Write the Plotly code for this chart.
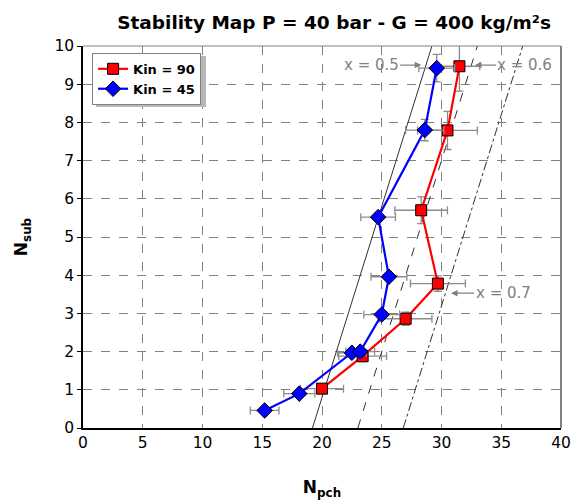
import plotly.graph_objects as go

# Kin = 90 (red squares)
npch_90 = [20.0, 23.4, 27.0, 29.7, 28.3, 30.5, 31.5]
nsub_90 = [1.03, 1.88, 2.86, 3.78, 5.70, 7.79, 9.47]
xerr_90 = [1.8, 2.0, 2.2, 2.3, 2.2, 2.5, 1.7]
yerr_90 = [0.12, 0.15, 0.17, 0.2, 0.35, 0.5, 0.65]

# Kin = 45 (blue diamonds)
npch_45 = [15.2, 18.1, 22.5, 23.2, 25.0, 25.6, 24.7, 28.6, 29.6]
nsub_45 = [0.46, 0.90, 1.97, 2.00, 2.97, 3.96, 5.52, 7.80, 9.42]
xerr_45 = [1.2, 1.3, 1.2, 1.2, 1.5, 1.5, 1.45, 1.6, 1.5]
yerr_45 = [0.05, 0.05, 0.05, 0.05, 0.1, 0.1, 0.1, 0.28, 0.36]

# constant-quality lines (Nsub endpoints and Npch endpoints)
qual_nsub = [0, 10]
qual_x05 = [19.2, 29.2]
qual_x06 = [23.0, 33.0]
qual_x07 = [26.8, 36.8]

x_ticks = [0, 5, 10, 15, 20, 25, 30, 35, 40]
y_ticks = list(range(0, 11))

FONT = "DejaVu Sans"
GRAY = "#808080"

fig = go.Figure()

for xs, dash in [(qual_x05, "solid"), (qual_x06, "dash"), (qual_x07, "dashdot")]:
    fig.add_trace(go.Scatter(x=xs, y=qual_nsub, mode="lines", showlegend=False,
                             line=dict(color="#303030", width=1, dash=dash),
                             hoverinfo="skip"))

fig.add_trace(go.Scatter(
    x=npch_90, y=nsub_90, mode="lines+markers", name="<b>Kin = 90</b>",
    line=dict(color="#ff0000", width=2.2),
    marker=dict(symbol="square", size=11, color="#ff0000", line=dict(color="#000000", width=1)),
    error_x=dict(type="data", array=xerr_90, color="#8c8c8c", thickness=1.3, width=4),
    error_y=dict(type="data", array=yerr_90, color="#8c8c8c", thickness=1.3, width=4),
))
fig.add_trace(go.Scatter(
    x=npch_45, y=nsub_45, mode="lines+markers", name="<b>Kin = 45</b>",
    line=dict(color="#0000ff", width=2.2),
    marker=dict(symbol="diamond", size=12, color="#0000ff", line=dict(color="#000000", width=1)),
    error_x=dict(type="data", array=xerr_45, color="#8c8c8c", thickness=1.3, width=4),
    error_y=dict(type="data", array=yerr_45, color="#8c8c8c", thickness=1.3, width=4),
))

ann_font = dict(family=FONT, size=15, color=GRAY)
arrow = dict(showarrow=True, arrowhead=2, arrowsize=1, arrowwidth=1.3, arrowcolor=GRAY, ay=0)
fig.add_annotation(x=28.3, y=9.5, text="x = 0.5", ax=-50, font=ann_font, **arrow)
fig.add_annotation(x=32.8, y=9.5, text="x = 0.6", ax=50, font=ann_font, **arrow)
fig.add_annotation(x=30.8, y=3.53, text="x = 0.7", ax=52, font=ann_font, **arrow)

# top and right gray frame
fig.add_shape(type="line", xref="paper", yref="paper", x0=0, x1=1, y0=1, y1=1,
              line=dict(color=GRAY, width=1))
fig.add_shape(type="line", xref="paper", yref="paper", x0=1, x1=1, y0=0, y1=1,
              line=dict(color=GRAY, width=2))
# legend shadow
fig.add_shape(type="rect", xref="paper", yref="paper",
              x0=(96 - 83) / 478, x1=(206 - 83) / 478,
              y0=(428 - 107) / 382, y1=(428 - 56) / 382,
              line=dict(width=0), fillcolor="#b8b8b8", layer="above")

fig.update_layout(
    width=573, height=504,
    margin=dict(l=83, r=12, t=46, b=76, autoexpand=False),
    paper_bgcolor="white", plot_bgcolor="white",
    font=dict(family=FONT, size=15, color="black"),
    title=dict(text="<b>Stability Map P = 40 bar - G = 400 kg/m²s</b>",
               x=0.583, xanchor="center", y=0.955, yanchor="middle",
               font=dict(family=FONT, size=18.5, color="black")),
    showlegend=True,
    legend=dict(x=0.019, y=0.982, xanchor="left", yanchor="top",
                bgcolor="white", bordercolor=GRAY, borderwidth=1,
                font=dict(family=FONT, size=13, color="black"),
                tracegroupgap=4, itemwidth=30),
    xaxis=dict(range=[0, 40], tickvals=x_ticks, showgrid=True, gridcolor=GRAY,
               griddash="dash", gridwidth=1, showline=True, linecolor="black", linewidth=1.5,
               ticks="", zeroline=False, automargin=False,
               tickfont=dict(family=FONT, size=15.5),
               title=dict(text="<b>N<sub>pch</sub></b>", font=dict(family=FONT, size=17), standoff=30)),
    yaxis=dict(range=[0, 10], tickvals=y_ticks, showgrid=True, gridcolor=GRAY,
               griddash="dash", gridwidth=1, showline=True, linecolor="black", linewidth=1.5,
               ticks="outside", ticklen=4, tickcolor="black", zeroline=False, automargin=False,
               tickfont=dict(family=FONT, size=15.5),
               title=dict(text="<b>N<sub>sub</sub></b>", font=dict(family=FONT, size=17), standoff=22)),
)

fig.write_html("out.html")
